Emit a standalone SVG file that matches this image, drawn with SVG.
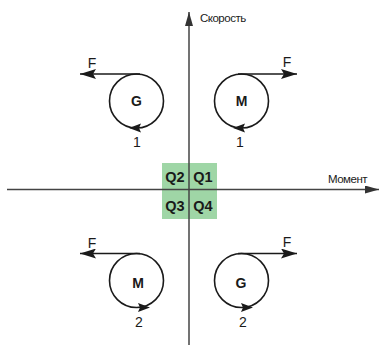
<svg xmlns="http://www.w3.org/2000/svg" width="380" height="345" viewBox="0 0 380 345">
<style>
.ax{stroke:#444;stroke-width:1.5;fill:none}
.ln{stroke:#1a1a1a;stroke-width:1.6;fill:none}
.ah{fill:#1a1a1a}
.lbl{font-family:"Liberation Sans",Arial,sans-serif;fill:#1a1a1a}
.ttl{font-size:11.5px;letter-spacing:-0.5px}
.num{font-size:14px;text-anchor:middle}
.nm{font-size:14px;font-weight:bold;text-anchor:middle}
.q{font-size:14.5px;font-weight:bold;text-anchor:middle}
</style>
<defs>
<marker id="arr" viewBox="0 0 16 10" refX="16" refY="5" markerWidth="16" markerHeight="10" markerUnits="userSpaceOnUse" orient="auto">
<path d="M0,0 L16,5 L0,10 L3,5 Z" fill="#1a1a1a"/>
</marker>
<marker id="axarr" viewBox="0 0 14 8" refX="14" refY="4" markerWidth="14" markerHeight="8" markerUnits="userSpaceOnUse" orient="auto">
<path d="M0,0 L14,4 L0,8 Z" fill="#333"/>
</marker>
</defs>
<rect x="162" y="163" width="55" height="56" fill="#9fd6a6"/>
<g id="connectors">
<line class="ax" x1="189" y1="345" x2="189" y2="12" marker-end="url(#axarr)"/>
<line class="ax" x1="7" y1="189.5" x2="379" y2="189.5" marker-end="url(#axarr)"/>
</g>
<g id="quadrants">
<text class="lbl q" x="175" y="182">Q2</text>
<text class="lbl q" x="203" y="182">Q1</text>
<text class="lbl q" x="175" y="211">Q3</text>
<text class="lbl q" x="203" y="211">Q4</text>
</g>
<g id="axis-labels">
<text class="lbl ttl" x="200" y="22">Скорость</text>
<text class="lbl ttl" x="328" y="183">Момент</text>
</g>
<g id="node-q2">
<circle class="ln" cx="136.5" cy="101" r="27"/>
<line class="ln" x1="140" y1="74" x2="80" y2="74" marker-end="url(#arr)"/>
<path class="ah" d="M129,128 L141,123.5 L139,128 L141,132.5 Z"/>
<text class="lbl num" x="92" y="68">F</text>
<text class="lbl nm" x="136.5" y="106">G</text>
<text class="lbl num" x="137" y="147">1</text>
</g>
<g id="node-q1">
<circle class="ln" cx="241.5" cy="101" r="27"/>
<line class="ln" x1="238" y1="74" x2="297" y2="74" marker-end="url(#arr)"/>
<path class="ah" d="M233,128 L245,123.5 L243,128 L245,132.5 Z"/>
<text class="lbl num" x="287" y="67">F</text>
<text class="lbl nm" x="241.5" y="106">M</text>
<text class="lbl num" x="240" y="147">1</text>
</g>
<g id="node-q3">
<circle class="ln" cx="136.5" cy="280.5" r="27"/>
<line class="ln" x1="140" y1="253.5" x2="80" y2="253.5" marker-end="url(#arr)"/>
<path class="ah" d="M150,307.5 L138,303 L140,307.5 L138,312 Z"/>
<text class="lbl num" x="92" y="248">F</text>
<text class="lbl nm" x="138" y="288">M</text>
<text class="lbl num" x="139" y="327">2</text>
</g>
<g id="node-q4">
<circle class="ln" cx="241.5" cy="280.5" r="27"/>
<line class="ln" x1="238" y1="253.5" x2="297" y2="253.5" marker-end="url(#arr)"/>
<path class="ah" d="M253,307.5 L241,303 L243,307.5 L241,312 Z"/>
<text class="lbl num" x="287" y="247">F</text>
<text class="lbl nm" x="241" y="288">G</text>
<text class="lbl num" x="243" y="327">2</text>
</g>
</svg>
